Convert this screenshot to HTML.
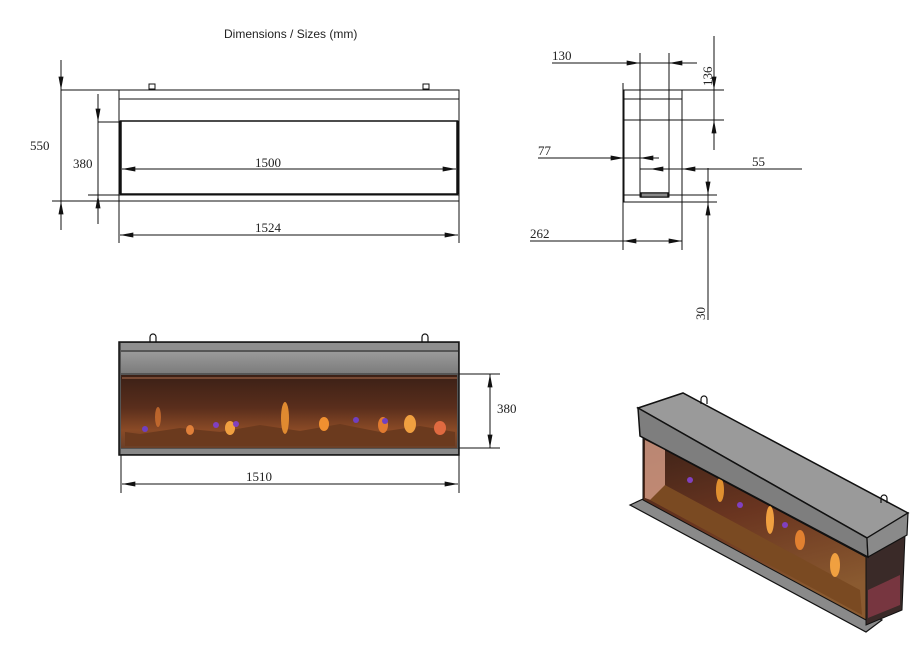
<!DOCTYPE html>
<html><head><meta charset="utf-8"><style>
html,body{margin:0;padding:0;background:#fff}
svg{display:block}
text{font-family:"Liberation Serif",serif;font-size:13px;fill:#222}
</style></head><body>
<svg width="924" height="648" viewBox="0 0 924 648" xmlns="http://www.w3.org/2000/svg">
<defs>
<marker id="a" viewBox="0 0 16 6" refX="16" refY="3" markerWidth="16" markerHeight="5" orient="auto-start-reverse" markerUnits="userSpaceOnUse"><path d="M0,0L16,3L0,6z" fill="#111"/></marker>
<linearGradient id="glass" x1="0" y1="0" x2="0" y2="1">
<stop offset="0" stop-color="#3b2016"/><stop offset="0.45" stop-color="#5a2e1c"/><stop offset="0.75" stop-color="#8a4a26"/><stop offset="1" stop-color="#6a4028"/></linearGradient>
<linearGradient id="glass2" x1="0" y1="0" x2="0.3" y2="1">
<stop offset="0" stop-color="#3b2218"/><stop offset="0.5" stop-color="#6a3520"/><stop offset="1" stop-color="#8a5a30"/></linearGradient>
<linearGradient id="bar" x1="0" y1="0" x2="0" y2="1"><stop offset="0" stop-color="#9a9a9a"/><stop offset="1" stop-color="#7c7c7c"/></linearGradient>
</defs>
<text x="224" y="38" style="font-family:'Liberation Sans',sans-serif;font-size:12px">Dimensions / Sizes (mm)</text>
<g stroke="#111" stroke-width="1" fill="none">

<!-- top front view -->
<rect x="119" y="90" width="340" height="111"/>
<line x1="119" y1="99" x2="459" y2="99"/>
<rect x="120.5" y="121" width="337" height="73" stroke-width="1.5"/>
<line x1="120.5" y1="121" x2="120.5" y2="194" stroke-width="2.5"/>
<line x1="457.5" y1="121" x2="457.5" y2="194" stroke-width="2.5"/>
<line x1="119" y1="195" x2="459" y2="195"/>
<rect x="149" y="84" width="6" height="5"/>
<rect x="423" y="84" width="6" height="5"/>
<line x1="61" y1="60" x2="61" y2="230"/>
<line x1="61" y1="65" x2="61" y2="90" marker-end="url(#a)"/>
<line x1="61" y1="226" x2="61" y2="201" marker-end="url(#a)"/>
<line x1="61" y1="90" x2="119" y2="90"/>
<line x1="52" y1="201" x2="119" y2="201"/>
<line x1="98" y1="94" x2="98" y2="224"/>
<line x1="98" y1="97" x2="98" y2="122" marker-end="url(#a)"/>
<line x1="98" y1="220" x2="98" y2="195" marker-end="url(#a)"/>
<line x1="98" y1="122" x2="119" y2="122"/>
<line x1="88" y1="195" x2="119" y2="195"/>
<line x1="122" y1="169" x2="456" y2="169" marker-start="url(#a)" marker-end="url(#a)"/>
<line x1="119" y1="201" x2="119" y2="243"/>
<line x1="459" y1="201" x2="459" y2="243"/>
<line x1="120" y1="235" x2="458" y2="235" marker-start="url(#a)" marker-end="url(#a)"/>
<text x="30" y="150" stroke="none">550</text>
<text x="73" y="168" stroke="none">380</text>
<text x="255" y="167" stroke="none">1500</text>
<text x="255" y="232" stroke="none">1524</text>

<!-- side view -->
<line x1="623" y1="83" x2="623" y2="250"/>
<rect x="624" y="90" width="58" height="112"/>
<line x1="624" y1="99" x2="682" y2="99"/>
<line x1="624" y1="120" x2="682" y2="120"/>
<rect x="640" y="120" width="29" height="77"/>
<rect x="641" y="193" width="27" height="4" stroke-width="1.5"/>
<line x1="624" y1="195" x2="717" y2="195"/>
<line x1="682" y1="202" x2="717" y2="202"/>
<line x1="640" y1="53" x2="640" y2="120"/>
<line x1="669" y1="53" x2="669" y2="120"/>
<line x1="552" y1="63" x2="697" y2="63"/>
<line x1="620" y1="63" x2="640" y2="63" marker-end="url(#a)"/>
<line x1="690" y1="63" x2="669" y2="63" marker-end="url(#a)"/>
<line x1="714" y1="36" x2="714" y2="150"/>
<line x1="714" y1="70" x2="714" y2="90" marker-end="url(#a)"/>
<line x1="714" y1="145" x2="714" y2="120" marker-end="url(#a)"/>
<line x1="682" y1="90" x2="724" y2="90"/>
<line x1="682" y1="120" x2="724" y2="120"/>
<line x1="538" y1="158" x2="659" y2="158"/>
<line x1="604" y1="158" x2="624" y2="158" marker-end="url(#a)"/>
<line x1="659" y1="158" x2="640" y2="158" marker-end="url(#a)"/>
<line x1="682" y1="160" x2="682" y2="250"/>
<line x1="640" y1="169" x2="802" y2="169"/>
<line x1="650" y1="169" x2="669" y2="169" marker-start="url(#a)"/>
<line x1="702" y1="169" x2="682" y2="169" marker-end="url(#a)"/>
<line x1="530" y1="241" x2="682" y2="241"/>
<line x1="643" y1="241" x2="623" y2="241" marker-end="url(#a)"/>
<line x1="662" y1="241" x2="682" y2="241" marker-end="url(#a)"/>
<line x1="708" y1="168" x2="708" y2="320"/>
<line x1="708" y1="175" x2="708" y2="195" marker-end="url(#a)"/>
<line x1="708" y1="222" x2="708" y2="202" marker-end="url(#a)"/>
<text x="552" y="60" stroke="none">130</text>
<text x="538" y="155" stroke="none">77</text>
<text x="752" y="166" stroke="none">55</text>
<text x="530" y="238" stroke="none">262</text>
<text transform="translate(712,86) rotate(-90)" stroke="none">136</text>
<text transform="translate(705,320) rotate(-90)" stroke="none">30</text>

<!-- middle view -->
<rect x="119" y="342" width="340" height="113" fill="#555" stroke-width="1.5"/>
<rect x="121" y="343" width="337" height="7" fill="#8f8f8f" stroke="none"/>
<rect x="121" y="352" width="337" height="21" fill="url(#bar)" stroke="none"/>
<rect x="121" y="375" width="336" height="73" fill="url(#glass)" stroke="none"/>
<line x1="122" y1="378" x2="457" y2="378" stroke="#b07050"/>
<rect x="121" y="449" width="337" height="5" fill="#888" stroke="none"/>
<g stroke="none">
<path d="M125,446 L455,446 L455,432 L420,426 L380,432 L340,424 L300,431 L260,425 L220,432 L180,428 L140,434 L125,432Z" fill="#6b3a1e"/>
<ellipse cx="285" cy="418" rx="4" ry="16" fill="#e08a30"/>
<ellipse cx="158" cy="417" rx="3" ry="10" fill="#d07030" opacity=".8"/>
<ellipse cx="230" cy="428" rx="5" ry="7" fill="#f0a040"/>
<ellipse cx="324" cy="424" rx="5" ry="7" fill="#f09030"/>
<ellipse cx="410" cy="424" rx="6" ry="9" fill="#f0a040"/>
<ellipse cx="383" cy="425" rx="5" ry="8" fill="#e07a30"/>
<ellipse cx="440" cy="428" rx="6" ry="7" fill="#e06a40"/>
<circle cx="216" cy="425" r="3" fill="#8040c0"/>
<circle cx="236" cy="424" r="3" fill="#8040c0"/>
<circle cx="356" cy="420" r="3" fill="#7040c0"/>
<circle cx="385" cy="421" r="3" fill="#7040c0"/>
<circle cx="145" cy="429" r="3" fill="#7040c0"/>
<ellipse cx="190" cy="430" rx="4" ry="5" fill="#e0803a"/>
</g>
<path d="M150,342 v-5 a3,3 0 0 1 6,0 v5 M422,342 v-5 a3,3 0 0 1 6,0 v5" stroke-width="1.2"/>
<line x1="459" y1="374" x2="500" y2="374"/>
<line x1="459" y1="448" x2="500" y2="448"/>
<line x1="490" y1="374" x2="490" y2="448" marker-start="url(#a)" marker-end="url(#a)"/>
<line x1="121" y1="455" x2="121" y2="493"/>
<line x1="459" y1="455" x2="459" y2="493"/>
<line x1="122" y1="484" x2="458" y2="484" marker-start="url(#a)" marker-end="url(#a)"/>
<text x="497" y="413" stroke="none">380</text>
<text x="246" y="481" stroke="none">1510</text>

<!-- iso view -->
<polygon points="630,505 643,499 882,620 866,632" fill="#8a8a8a" stroke-width="1.2"/>
<polygon points="643,438 866,557 866,620 643,500" fill="url(#glass2)" stroke-width="1"/>
<polygon points="645,440 665,450 665,505 645,498" fill="#d9a08a" stroke="none" opacity=".8"/>
<g stroke="none">
<path d="M665,485 L860,590 L862,615 L650,500Z" fill="#7a4a22"/>
<ellipse cx="720" cy="490" rx="4" ry="12" fill="#e09030"/>
<ellipse cx="770" cy="520" rx="4" ry="14" fill="#f0a040"/>
<ellipse cx="800" cy="540" rx="5" ry="10" fill="#e08030"/>
<ellipse cx="835" cy="565" rx="5" ry="12" fill="#f0a040"/>
<circle cx="690" cy="480" r="3" fill="#8040c0"/>
<circle cx="785" cy="525" r="3" fill="#8040c0"/>
<circle cx="740" cy="505" r="3" fill="#8040c0"/>
</g>
<polygon points="866,557 905,535 902,610 866,625" fill="#3a2a28" stroke-width="1"/>
<polygon points="868,590 900,575 900,605 868,618" fill="#a04050" stroke="none" opacity=".6"/>
<polygon points="638,408 683,393 908,513 867,538" fill="#9a9a9a" stroke-width="1.5"/>
<polygon points="638,408 867,538 868,557 640,436" fill="#7e7e7e" stroke-width="1.5"/>
<polygon points="867,538 908,513 907,535 868,557" fill="#8a8a8a" stroke-width="1.2"/>
<path d="M701,404 v-5 a3,3 0 0 1 6,0 v5 M881,503 v-5 a3,3 0 0 1 6,0 v5" stroke-width="1.2"/>
</g>
</svg>
</body></html>
